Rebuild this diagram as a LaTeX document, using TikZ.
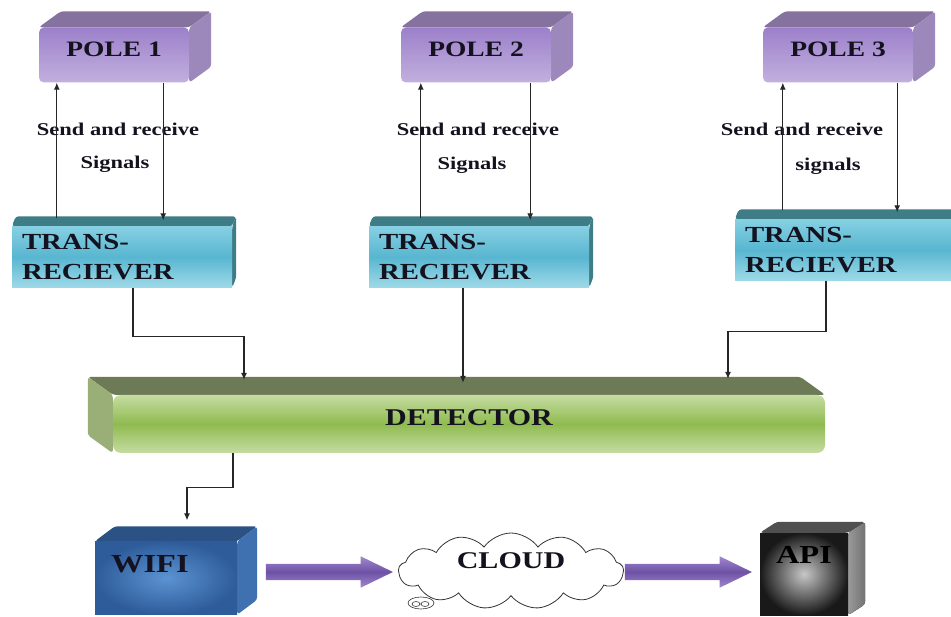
\documentclass[tikz,border=0pt]{standalone}
\usepackage{fontspec}
\setmainfont{Liberation Serif}[FakeStretch=1.25]
\usetikzlibrary{arrows.meta,shapes.symbols,shapes.arrows,backgrounds}

\definecolor{poleA}{HTML}{9C80CA}
\definecolor{poleB}{HTML}{C2B0DE}
\definecolor{polelid}{HTML}{85729F}
\definecolor{poleside}{HTML}{9C88BB}
\definecolor{transA}{HTML}{86D0E3}
\definecolor{transB}{HTML}{58B6D0}
\definecolor{translid}{HTML}{3E7D86}
\definecolor{detA}{HTML}{C6DCA2}
\definecolor{detB}{HTML}{8FBB50}
\definecolor{detlid}{HTML}{6C7A55}
\definecolor{detside}{HTML}{9AAE78}
\definecolor{wifiA}{HTML}{5C93D2}
\definecolor{wifiB}{HTML}{2E5C9A}
\definecolor{wifilid}{HTML}{2B5185}
\definecolor{wifiside}{HTML}{3F70B0}
\definecolor{arrowA}{HTML}{A088CE}
\definecolor{arrowB}{HTML}{6E51A5}
\definecolor{apilid}{HTML}{505050}
\definecolor{ink}{HTML}{14121E}

% lid and side of a box, drawn behind its front node
\newcommand{\solidbox}[6]{%
	\begin{pgfonlayer}{background}
		\fill[#4,rounded corners=3pt] (#1.north west) -- ++(#2,#3) -- ([shift={(#2,#3)}]#1.north east) -- (#1.north east) -- cycle;
		\fill[#6,rounded corners=3pt] (#1.north #5) -- ++(#2,#3) -- ([shift={(#2,#3)}]#1.south #5) -- (#1.south #5) -- cycle;
	\end{pgfonlayer}}

\begin{document}
\begin{tikzpicture}[x=1pt,y=-1pt,
	pole/.style={rectangle,rounded corners=5pt,minimum width=150pt,minimum height=55pt,
		top color=poleA,bottom color=poleB,text=ink,text depth=12pt,
		font=\bfseries\fontsize{22}{26}\selectfont},
	trans/.style={rectangle,minimum width=220pt,minimum height=61pt,
		top color=transA,bottom color=transA!80,middle color=transB,text=ink,
		text width=200pt,align=left,font=\bfseries\fontsize{23}{30}\selectfont},
	detector/.style={rectangle,rounded corners=8pt,minimum width=712pt,minimum height=58pt,
		top color=detA,bottom color=detA,middle color=detB,text=ink,text depth=12pt,
		font=\bfseries\fontsize{24}{28}\selectfont},
	wifibox/.style={rectangle,minimum width=142pt,minimum height=73pt,
		inner color=wifiA,outer color=wifiB,text=ink,text depth=28pt,
		text width=110pt,align=left,font=\bfseries\fontsize{26}{30}\selectfont},
	apibox/.style={rectangle,minimum width=88pt,minimum height=82pt,
		inner color=black!22,outer color=black!90,text=black,text depth=38pt,
		font=\bfseries\fontsize{26}{30}\selectfont},
	fatarrow/.style={single arrow,minimum height=127pt,inner xsep=0pt,inner ysep=8pt,
		single arrow head extend=7.5pt,single arrow tip angle=52,
		top color=arrowA,bottom color=arrowA,middle color=arrowB},
	note/.style={text=ink,font=\bfseries\fontsize{18}{21}\selectfont},
	link/.style={-{Latex[length=7pt,width=6pt]},line width=1.1pt,black!85}]

	\useasboundingbox (0,0) rectangle (951,617);

	\node[pole] (p1) at (114,55) {POLE 1};
	\node[pole] (p2) at (476,55) {POLE 2};
	\node[pole] (p3) at (838,55) {POLE 3};
	\solidbox{p1}{22}{-16}{polelid}{east}{poleside}
	\solidbox{p2}{22}{-16}{polelid}{east}{poleside}
	\solidbox{p3}{22}{-16}{polelid}{east}{poleside}

	\node[note] (snd1) at (118,129) {Send and receive};
	\node[note] (sig1) at (115,164) {Signals};
	\node[note] (snd2) at (478,129) {Send and receive};
	\node[note] (sig2) at (472,165) {Signals};
	\node[note] (snd3) at (802,129) {Send and receive};
	\node[note] (sig3) at (828,166) {signals};

	\node[trans] (t1) at (122,257) {TRANS-\\RECIEVER};
	\node[trans] (t2) at (479,257) {TRANS-\\RECIEVER};
	\node[trans] (t3) at (845,250) {TRANS-\\RECIEVER};
	\solidbox{t1}{4}{-10}{translid}{east}{translid}
	\solidbox{t2}{4}{-10}{translid}{east}{translid}
	\solidbox{t3}{4}{-10}{translid}{east}{translid}

	\node[detector] (det) at (469,424) {DETECTOR};
	\solidbox{det}{-25}{-18}{detlid}{west}{detside}

	\node[wifibox] (wifi) at (166,578) {WIFI};
	\solidbox{wifi}{20}{-15}{wifilid}{east}{wifiside}
	\node[fatarrow] (arr1) at (321,572) {};
	\node[cloud,cloud puffs=13,cloud puff arc=110,aspect=2.9,draw=black!80,line width=0.8pt,
		fill=white,minimum width=225pt,minimum height=76pt,inner sep=0pt,text=ink,text depth=20pt,
		font=\bfseries\fontsize{24}{28}\selectfont] (cloud) at (511,571) {CLOUD};
	\draw[black!80,fill=white,line width=0.6pt] ([shift={(-90,32)}]cloud.center) ellipse [x radius=13pt,y radius=6pt];
	\draw[black!80,line width=0.6pt] ([shift={(-95,33)}]cloud.center) ellipse [x radius=4pt,y radius=2.5pt]
		([shift={(-86,33)}]cloud.center) ellipse [x radius=4pt,y radius=2.5pt];
	\node[fatarrow] (arr2) at (680,572) {};
	\node[apibox] (api) at (804,574) {API};
	\solidbox{api}{17}{-11}{apilid}{east}{left color=black!40,right color=black!55}

	% signals between poles and trans-recievers
	\coordinate (u1) at ([xshift=18pt]p1.south west);
	\coordinate (v1) at ([xshift=-26pt]p1.south east);
	\coordinate (u2) at ([xshift=20pt]p2.south west);
	\coordinate (v2) at ([xshift=-21pt]p2.south east);
	\coordinate (u3) at ([xshift=20pt]p3.south west);
	\coordinate (v3) at ([xshift=-16pt]p3.south east);
	\draw[link,shorten <=8pt] (u1 |- t1.north) -- (u1);
	\draw[link,shorten >=6pt] (v1) -- (v1 |- t1.north);
	\draw[link,shorten <=8pt] (u2 |- t2.north) -- (u2);
	\draw[link,shorten >=6pt] (v2) -- (v2 |- t2.north);
	\draw[link,shorten <=9pt] (u3 |- t3.north) -- (u3);
	\draw[link,shorten >=7pt] (v3) -- (v3 |- t3.north);

	% trans-recievers into the detector
	\coordinate (d1) at ([shift={(-225,-15)}]det.north);
	\coordinate (d2) at ([shift={(-6,-12)}]det.north);
	\coordinate (d3) at ([shift={(259,-16)}]det.north);
	\draw[link] ([xshift=11pt]t1.south) |- ([yshift=43pt]d1) -- (d1);
	\draw[link] (d2 |- t2.south) -- (d2);
	\draw[link] ([xshift=-19pt]t3.south) |- ([yshift=47pt]d3) -- (d3);

	% detector down to the wifi box
	\coordinate (w1) at ([shift={(21,-21)}]wifi.north);
	\draw[link] ([xshift=-236pt]det.south) |- ([yshift=33pt]w1) -- (w1);
\end{tikzpicture}
\end{document}
